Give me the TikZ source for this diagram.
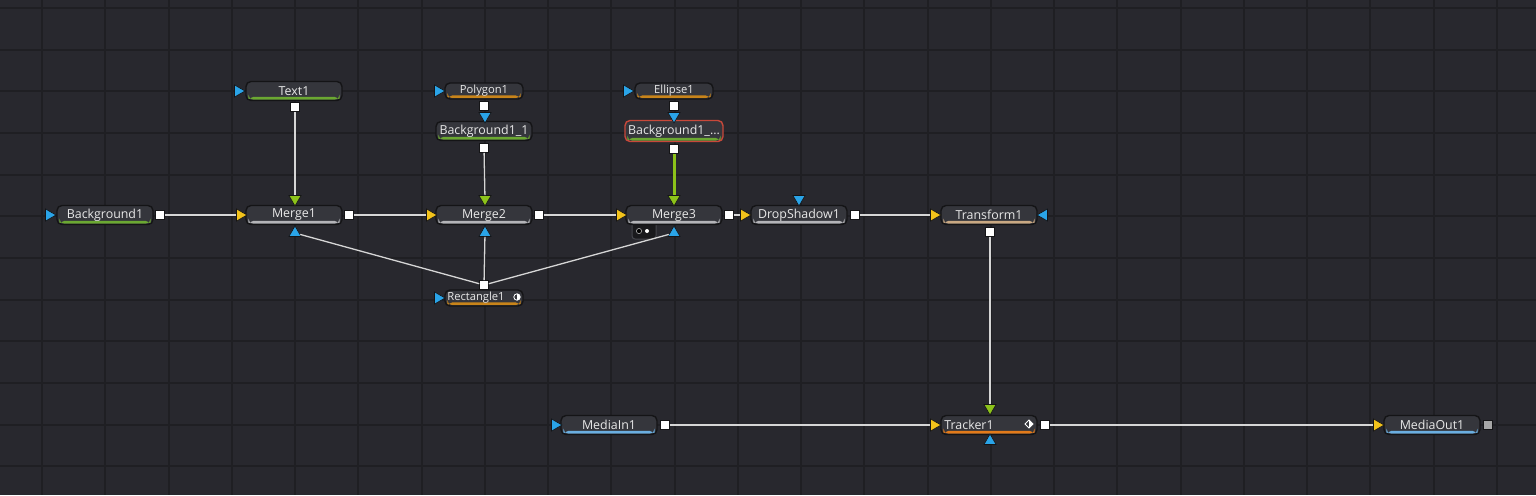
\documentclass[tikz,border=0pt]{standalone}
\usepackage{fontspec}
\setsansfont{Open Sans}
\usetikzlibrary{shapes.geometric}

\definecolor{canvas}{HTML}{28282E}
\definecolor{gridcol}{HTML}{1F1F23}
\definecolor{nodefill}{HTML}{35363C}
\definecolor{nodeedge}{HTML}{141416}
\definecolor{nodetext}{HTML}{E8E8E8}
\definecolor{wirecol}{HTML}{D6D6D6}
\definecolor{inyellow}{HTML}{F2C21B}
\definecolor{fggreen}{HTML}{8CC21A}
\definecolor{maskblue}{HTML}{2AA4E8}
\definecolor{bargreen}{HTML}{6BA832}
\definecolor{barorange}{HTML}{C8841A}
\definecolor{bartan}{HTML}{C9A882}
\definecolor{bargray}{HTML}{B4B4B8}
\definecolor{bartrack}{HTML}{E27A1A}
\definecolor{barblue}{HTML}{6AAEE0}
\definecolor{selred}{HTML}{C8483A}
\definecolor{panelcol}{HTML}{19191C}
\definecolor{paneledge}{HTML}{45464C}

\begin{document}
\begin{tikzpicture}[
    x=0.5pt, y=-0.5pt,
    font=\sffamily,
    tool/.style={draw=nodeedge, line width=0.7pt, fill=nodefill, rounded corners=2.5pt,
      minimum width=48pt, minimum height=9.5pt, inner sep=0pt, text=nodetext,
      font=\sffamily\fontsize{6.2}{7}\selectfont,
      path picture={\fill[#1] ([xshift=1.2pt,yshift=0.4pt]path picture bounding box.south west)
        rectangle ([xshift=-1.2pt,yshift=1.8pt]path picture bounding box.south east);}},
    small/.style={tool=#1, minimum width=39pt, minimum height=8pt,
      font=\sffamily\fontsize{5.6}{6}\selectfont},
    outport/.style={draw=nodeedge, line width=0.4pt, fill=white, minimum size=4.4pt, inner sep=0pt},
    tri/.style={regular polygon, regular polygon sides=3, fill=#1, draw=nodeedge,
      line width=0.3pt, inner sep=0pt, minimum size=7pt},
    tri right/.style={tri=#1, shape border rotate=-90},
    tri left/.style={tri=#1, shape border rotate=90},
    tri down/.style={tri=#1, shape border rotate=180},
    tri up/.style={tri=#1},
    wire/.style={draw=wirecol, line width=0.65pt},
    gridline/.style={draw=gridcol, line width=1pt}
  ]

  % canvas and grid
  \fill[canvas] (0,0) rectangle (1536,495);
  \useasboundingbox (0,0) rectangle (1536,495);
  \foreach \i in {0,...,23}
    \draw[gridline] ({42+63.26*\i},0) -- ({42+63.26*\i},495);
  \foreach \j in {0,...,11}
    \draw[gridline] (0,{8+41.67*\j}) -- (1536,{8+41.67*\j});

  % merge3 sub panel
  \filldraw[fill=panelcol, draw=paneledge, line width=0.5pt, rounded corners=1.5pt] (632,220) rectangle (656,239);
  \filldraw[fill=black, draw=gray!60, line width=0.3pt] (639,231) circle (2.6);
  \fill[white] (647,231) circle (2);

  % main row
  \node[tool=bargreen] (bg1) at (105,215) {Background1};
  \node[tool=bargray] (m1) at (294,215) {Merge1};
  \node[tool=bargray] (m2) at (484,215) {Merge2};
  \node[tool=bargray] (m3) at (674,215) {Merge3};
  \node[tool=bargray] (ds) at (799,215) {DropShadow1};
  \node[tool=bartan] (tf) at (989,215) {Transform1};

  % top row
  \node[tool=bargreen] (txt) at (294,91) {Text1};
  \node[small=barorange] (poly) at (484,91) {Polygon1};
  \node[tool=bargreen] (bg11) at (484,131) {Background1\_1};
  \node[small=barorange] (ell) at (674,91) {Ellipse1};
  \node[tool=bargreen, draw=selred, minimum width=49pt, minimum height=10.5pt] (bg12) at (674,131) {Background1\_...};
  \node[small=barorange] (rect) at (484,298) {Rectangle1\hspace*{8pt}};

  % bottom row
  \node[tool=barblue] (mi) at (609,425) {MediaIn1};
  \node[tool=bartrack] (trk) at (989,425) {Tracker1\hspace*{20pt}};
  \node[tool=barblue] (mo) at (1432,425) {MediaOut1};

  % small icons
  \draw[white, line width=0.4pt] (517,297) circle (1.6pt);
  \begin{scope}
    \clip (517,290) rectangle (524,304);
    \fill[white] (517,297) circle (1.6pt);
  \end{scope}
  \draw[white, line width=0.5pt] (1029,420) -- (1033,424) -- (1029,428) -- (1025,424) -- cycle;
  \fill[white] (1029,420) -- (1033,424) -- (1029,428) -- cycle;

  % ports
  \node[tri right=maskblue] (bg1-mask) at (49,215) {};
  \node[outport] (bg1-out) at (160,215) {};
  \node[tri right=inyellow] (m1-in) at (240,215) {};
  \node[tri down=fggreen] (m1-fg) at (295,199) {};
  \node[tri up=maskblue] (m1-mask) at (295,233) {};
  \node[outport] (m1-out) at (349,215) {};
  \node[tri right=inyellow] (m2-in) at (430,215) {};
  \node[tri down=fggreen] (m2-fg) at (485,199) {};
  \node[tri up=maskblue] (m2-mask) at (485,233) {};
  \node[outport] (m2-out) at (539,215) {};
  \node[tri right=inyellow] (m3-in) at (620,215) {};
  \node[tri down=fggreen] (m3-fg) at (674,199) {};
  \node[tri up=maskblue] (m3-mask) at (674,233) {};
  \node[outport] (m3-out) at (729,215) {};
  \node[tri right=inyellow] (ds-in) at (744,215) {};
  \node[tri down=maskblue] (ds-mask) at (799,199) {};
  \node[outport] (ds-out) at (855,215) {};
  \node[tri right=inyellow] (tf-in) at (934,215) {};
  \node[tri left=maskblue] (tf-mask) at (1044,215) {};
  \node[outport] (tf-out) at (990,232) {};

  \node[tri right=maskblue] (txt-mask) at (238,91) {};
  \node[outport] (txt-out) at (295,107) {};
  \node[tri right=maskblue] (poly-mask) at (438,91) {};
  \node[outport] (poly-out) at (484,106) {};
  \node[tri down=maskblue] (bg11-mask) at (485,116) {};
  \node[outport] (bg11-out) at (484,148) {};
  \node[tri right=maskblue] (ell-mask) at (627,91) {};
  \node[outport] (ell-out) at (674,106) {};
  \node[tri down=maskblue] (bg12-mask) at (674,116) {};
  \node[outport] (bg12-out) at (674,149) {};
  \node[tri right=maskblue] (rect-mask) at (438,298) {};
  \node[outport] (rect-out) at (484,285) {};

  \node[tri right=maskblue] (mi-mask) at (555,425) {};
  \node[outport] (mi-out) at (665,425) {};
  \node[tri right=inyellow] (trk-in) at (934,425) {};
  \node[tri down=fggreen] (trk-fg) at (990,408) {};
  \node[tri up=maskblue] (trk-mask) at (990,441) {};
  \node[outport] (trk-out) at (1045,425) {};
  \node[tri right=inyellow] (mo-in) at (1377,425) {};
  \node[outport, fill=gray!70] (mo-out) at (1488,425) {};

  % connections
  \draw[wire] (bg1-out) -- (m1-in);
  \draw[wire] (m1-out) -- (m2-in);
  \draw[wire] (m2-out) -- (m3-in);
  \draw[wire] (m3-out) -- (ds-in);
  \draw[wire] (ds-out) -- (tf-in);
  \draw[wire] (txt-out) -- (m1-fg);
  \draw[wire] (bg11-out) -- (m2-fg);
  \draw[draw=fggreen, line width=1.5pt] (bg12-out) -- (m3-fg);
  \draw[wire] (rect-out) -- (m1-mask);
  \draw[wire] (rect-out) -- (m2-mask);
  \draw[wire] (rect-out) -- (m3-mask);
  \draw[wire] (tf-out) -- (trk-fg);
  \draw[wire] (mi-out) -- (trk-in);
  \draw[wire] (trk-out) -- (mo-in);

\end{tikzpicture}
\end{document}
